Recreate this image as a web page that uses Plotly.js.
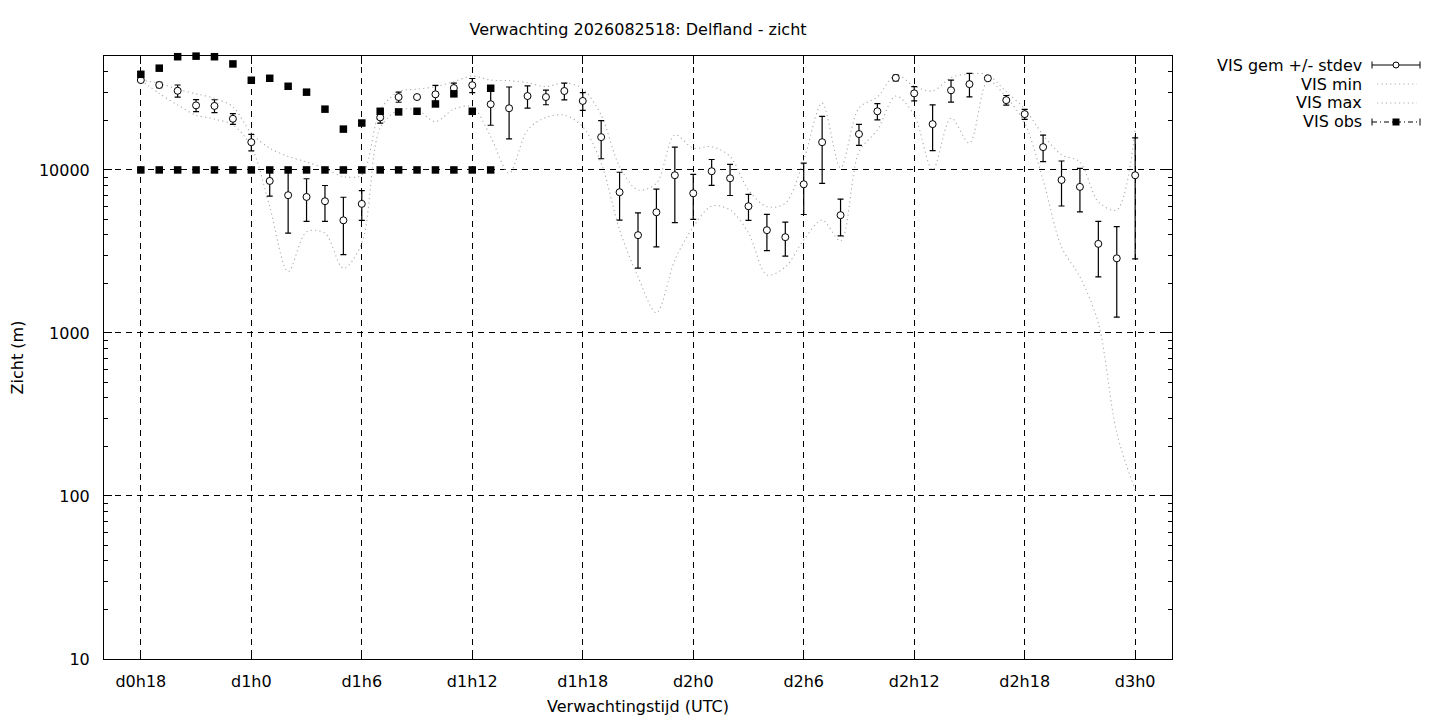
<!DOCTYPE html>
<html>
<head>
<meta charset="utf-8">
<script src="https://cdn.plot.ly/plotly-3.0.1.min.js"></script>
<style>html,body{margin:0;padding:0;background:#fff;}#chart{width:1440px;height:720px;}</style>
</head>
<body>
<div id="chart"></div>
<script>
// ---- data (hours since d0h0) ----
const hours = [18,19,20,21,22,23,24,25,26,27,28,29,30,31,32,33,34,35,36,37,38,39,40,41,42,43,44,45,
  46,47,48,49,50,51,52,53,54,55,56,57,58,59,60,61,62,63,64,65,66,67,68,69,70,71,72];
const visMean = [35600,33200,30600,24900,24700,20600,14800,8560,7000,6830,6430,4910,6190,21000,28000,28000,
  29100,31800,33100,25300,23900,28400,28000,30500,26500,15900,7300,3980,5500,9280,7190,9820,8890,5990,4270,
  3870,8170,14800,5280,16600,22900,36700,29500,19100,30800,33600,36500,26800,22000,13800,8680,7870,3520,2870,9280];
const visStdev = [800,1270,2600,2120,2250,1580,1710,1650,2900,2000,1600,1890,1280,1640,1980,800,3900,2240,
  3280,6500,8370,4430,2890,3570,3320,4190,2380,1480,2130,4530,2210,1770,1920,1090,1070,910,2840,6530,1340,
  2450,2600,1480,2940,5980,4740,5530,300,1810,1550,2540,2670,2340,1310,1620,6430];
const visMin = [35600,29500,25000,21700,20500,18900,13900,5950,2380,4180,4090,2490,3550,18100,23300,23300,
  19800,23600,24400,16000,9550,17600,21000,21700,18400,11000,4280,2210,1330,2800,4470,6000,5680,4110,2270,
  2540,3720,4930,3670,12900,17600,28400,21700,10000,20800,14600,35200,28000,19400,8680,3370,2210,1150,244,109];
const visMax = [35600,34000,31300,29300,27500,24400,16800,13600,12100,11200,10200,9100,9320,23300,30200,31300,
  32400,34800,37700,35600,35300,34300,32400,34300,31400,21700,10500,7540,8290,16400,13600,13900,12100,7540,
  5950,6250,11500,25700,10300,24000,28000,38300,32800,30500,36900,38800,38300,30100,23700,16400,12400,11200,
  6370,5680,17600];
const obsHours = [18,19,20,21,22,23,24,25,26,27,28,29,30,31,32,33,34,35,36,37];
const obsHigh = [38600,42100,49500,49900,49500,44700,35500,36500,32600,30000,23600,17800,19400,22900,22700,
  22900,25400,29300,22900,31700];
const obsLow = [10000,10000,10000,10000,10000,10000,10000,10000,10000,10000,10000,10000,10000,10000,10000,
  10000,10000,10000,10000,10000];
const xTickVals = [18,24,30,36,42,48,54,60,66,72];
const xTickText = ['d0h18','d1h0','d1h6','d1h12','d1h18','d2h0','d2h6','d2h12','d2h18','d3h0'];
const yTickVals = [10,100,1000,10000];
const yTickText = ['10','100','1000','10000'];
const yMinorVals = [20,30,40,50,60,70,80,90,200,300,400,500,600,700,800,900,2000,3000,4000,5000,6000,7000,
  8000,9000,20000,30000,40000];
const seriesNames = ['VIS gem +/- stdev','VIS min','VIS max','VIS obs'];

// ---- layout geometry (pixels) ----
const L = 104, R = 1172, T = 56, B = 659;
const px = p => (p - L) / (R - L);
const py = p => (B - p) / (B - T);
const FONT = 'DejaVu Sans, Liberation Sans, sans-serif';
const FS = 16;
const GRAY = '#ababab';

const traces = [
  {x: hours, y: visMin, name: seriesNames[1], mode: 'lines', showlegend: false,
   line: {color: GRAY, width: 1.1, dash: '1.2px,3.2px', shape: 'spline', smoothing: 0.9}},
  {x: hours, y: visMax, name: seriesNames[2], mode: 'lines', showlegend: false,
   line: {color: GRAY, width: 1.1, dash: '1.2px,3.2px', shape: 'spline', smoothing: 0.9}},
  {x: hours, y: visMean, name: seriesNames[0], mode: 'markers', showlegend: false,
   error_y: {type: 'data', array: visStdev, visible: true, color: '#000', thickness: 1.2, width: 3},
   marker: {symbol: 'circle', size: 7, color: '#fff', line: {color: '#000', width: 1}}},
  {x: obsHours.concat(obsHours), y: obsHigh.concat(obsLow), name: seriesNames[3], mode: 'markers',
   showlegend: false, cliponaxis: false,
   marker: {symbol: 'square', size: 7.5, color: '#000'}}
];

// ---- custom gnuplot-style key (right aligned text, sample on the right) ----
const rows = [65, 84, 103, 122];
const annotations = seriesNames.map((s, i) => ({
  text: s, xref: 'paper', yref: 'paper', x: px(1364), y: py(rows[i]), xanchor: 'right', yanchor: 'middle',
  showarrow: false, font: {family: FONT, size: FS, color: '#000'}
}));
const shapes = [];
const seg = (x0, y0, x1, y1, line) => shapes.push({type: 'line', xref: 'paper', yref: 'paper',
  x0: px(x0), y0: py(y0), x1: px(x1), y1: py(y1), line: line});
// row 1: errorbar with open circle
seg(1372, rows[0], 1420, rows[0], {color: '#000', width: 1});
seg(1372, rows[0] - 3.5, 1372, rows[0] + 3.5, {color: '#000', width: 1});
seg(1420, rows[0] - 3.5, 1420, rows[0] + 3.5, {color: '#000', width: 1});
shapes.push({type: 'circle', xref: 'paper', yref: 'paper', x0: px(1393), x1: px(1399), y0: py(rows[0] + 3),
  y1: py(rows[0] - 3), fillcolor: '#fff', line: {color: '#000', width: 1}});
// rows 2,3: dotted
seg(1377, rows[1], 1417, rows[1], {color: GRAY, width: 1.1, dash: '1.2px,3.2px'});
seg(1377, rows[2], 1417, rows[2], {color: GRAY, width: 1.1, dash: '1.2px,3.2px'});
// row 4: dash-dot errorbar with filled square
seg(1372, rows[3], 1420, rows[3], {color: '#000', width: 1, dash: '5px,3px,1px,3px'});
seg(1372, rows[3] - 3.5, 1372, rows[3] + 3.5, {color: '#000', width: 1});
seg(1420, rows[3] - 3.5, 1420, rows[3] + 3.5, {color: '#000', width: 1});
shapes.push({type: 'rect', xref: 'paper', yref: 'paper', x0: px(1392.5), x1: px(1399.5), y0: py(rows[3] + 3.5),
  y1: py(rows[3] - 3.5), fillcolor: '#000', line: {width: 0}});

const layout = {
  width: 1440, height: 720,
  margin: {l: L, r: 1440 - R, t: T, b: 720 - B, pad: 0},
  paper_bgcolor: '#fff', plot_bgcolor: '#fff',
  font: {family: FONT, size: FS, color: '#000'},
  showlegend: false,
  title: {text: 'Verwachting 2026082518: Delfland - zicht', xref: 'paper', x: 0.5, xanchor: 'center',
          y: 1 - 29 / 720, yanchor: 'middle', font: {family: FONT, size: FS, color: '#000'}},
  xaxis: {
    range: [16, 74], tickmode: 'array', tickvals: xTickVals, ticktext: xTickText,
    ticks: 'inside', ticklen: 8, tickcolor: '#000', tickwidth: 1,
    showline: true, linecolor: '#000', linewidth: 1, mirror: 'allticks',
    showgrid: true, gridcolor: '#000', gridwidth: 1, griddash: '6px,5px',
    zeroline: false, ticklabelstandoff: 8,
    title: {text: 'Verwachtingstijd (UTC)', font: {family: FONT, size: FS}, standoff: 10}
  },
  yaxis: {
    type: 'log', range: [1, Math.log10(50000)], tickmode: 'array', tickvals: yTickVals, ticktext: yTickText,
    ticks: 'inside', ticklen: 8, tickcolor: '#000', tickwidth: 1,
    minor: {tickmode: 'array', tickvals: yMinorVals, ticks: 'inside', ticklen: 4, tickcolor: '#000', showgrid: false},
    showline: true, linecolor: '#000', linewidth: 1, mirror: 'allticks',
    showgrid: true, gridcolor: '#000', gridwidth: 1, griddash: '6px,5px',
    zeroline: false, ticklabelstandoff: 10,
    title: {text: 'Zicht (m)', font: {family: FONT, size: FS}, standoff: 11}
  },
  annotations: annotations,
  shapes: shapes
};

Plotly.newPlot('chart', traces, layout, {staticPlot: true, displayModeBar: false});
</script>
</body>
</html>
